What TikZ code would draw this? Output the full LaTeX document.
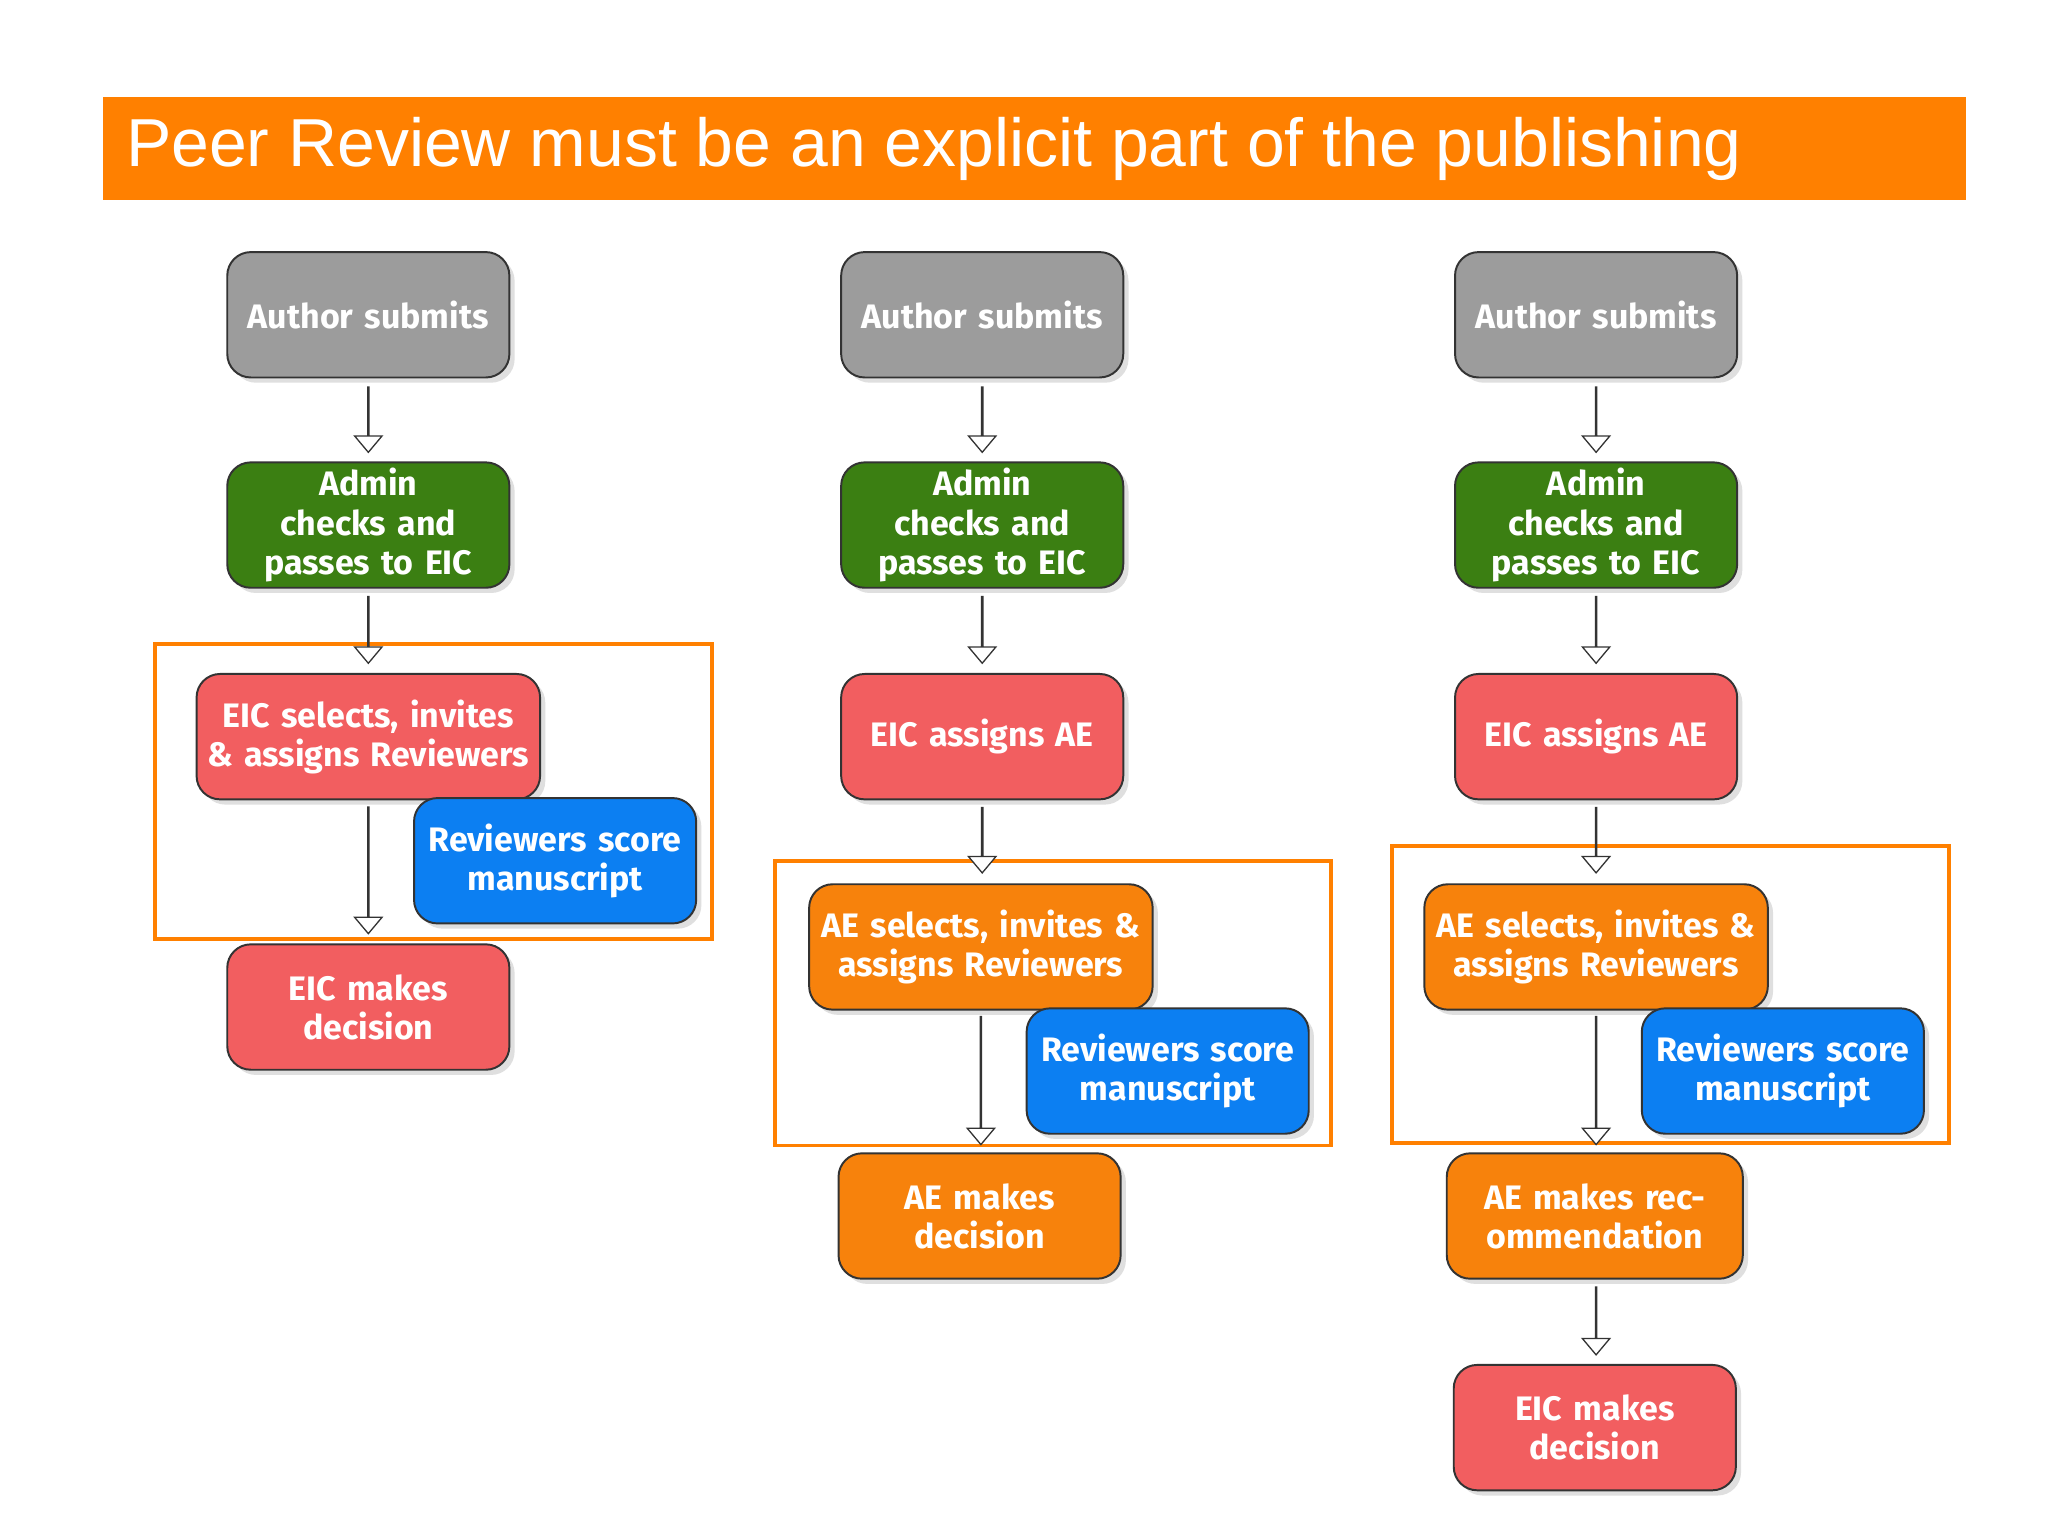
\documentclass[tikz,border=0pt]{standalone}
\usepackage{fontspec}
\setmainfont{Liberation Sans}
\newfontfamily\boxfont{Fira Sans}
\usetikzlibrary{shapes.arrows,calc,shadows}
\definecolor{tgray}{HTML}{9C9C9C}
\definecolor{tgreen}{HTML}{3B7F12}
\definecolor{tred}{HTML}{F25E60}
\definecolor{torange}{HTML}{F7820C}
\definecolor{tblue}{HTML}{0C7FF2}
\definecolor{bar}{HTML}{FF8000}
\tikzset{
 box/.style={draw=black!80,line width=1.5pt,rounded corners=18pt,minimum width=216pt,minimum height=96pt,text width=205pt,align=center,text=white,font=\boxfont\bfseries\fontsize{26}{30}\selectfont,drop shadow={shadow xshift=4pt,shadow yshift=-4pt,opacity=0.25}},
 wide/.style={minimum width=263pt,text width=250pt},
 blk/.style={single arrow,draw=black!80,fill=white,line width=1pt,shape border rotate=270,single arrow head extend=10pt,single arrow tip angle=80,minimum width=20pt,inner sep=0pt},
 frame/.style={draw=bar,line width=3pt}
}
\begin{document}
\begin{tikzpicture}[x=1pt,y=-1pt]
\useasboundingbox (0,0) rectangle (1568,1176);
\fill[white] (0,0) rectangle (1568,1176);
\fill[bar] (79,74) rectangle (1505,153);
\node[anchor=west,text=white,font=\fontsize{52}{60}\selectfont] (title) at (93,114) {Peer Review must be an explicit part of the publishing};
% column 1
\draw[frame] (119,493) rectangle (545,719);
\node[box,fill=tgray] (a1) at (282,241) {Author submits};
\node[box,fill=tgreen] (b1) at (282,402) {Admin checks and passes to EIC};
\node[box,wide,fill=tred] (c1) at (282,564) {EIC selects, invites \& assigns Reviewers};
\node[box,fill=tred] (e1) at (282,771) {EIC makes decision};
\node[blk,minimum height=50pt] (ar1) at (282,321) {};
\node[blk,minimum height=51pt] (ar2) at (282,482) {};
\node[blk,minimum height=97pt] (ar3) at (282,666) {};
\node[box,fill=tblue] (d1) at (425,659) {Reviewers score manuscript};
% column 2
\draw[frame] (593,659) rectangle (1019,877);
\node[box,fill=tgray] (a2) at (752,241) {Author submits};
\node[box,fill=tgreen] (b2) at (752,402) {Admin checks and passes to EIC};
\node[box,fill=tred] (c2) at (752,564) {EIC assigns AE};
\node[box,wide,fill=torange] (f2) at (751,725) {AE selects, invites \& assigns Reviewers};
\node[box,fill=torange] (e2) at (750,931) {AE makes decision};
\node[blk,minimum height=50pt] (br1) at (752,321) {};
\node[blk,minimum height=51pt] (br2) at (752,482) {};
\node[blk,minimum height=50pt] (br3) at (752,643) {};
\node[blk,minimum height=98pt] (br4) at (751,827) {};
\node[box,fill=tblue] (d2) at (894,820) {Reviewers score manuscript};
% column 3
\draw[frame] (1066,648) rectangle (1492,875);
\node[box,fill=tgray] (a3) at (1222,241) {Author submits};
\node[box,fill=tgreen] (b3) at (1222,402) {Admin checks and passes to EIC};
\node[box,fill=tred] (c3) at (1222,564) {EIC assigns AE};
\node[box,wide,fill=torange] (f3) at (1222,725) {AE selects, invites \& assigns Reviewers};
\node[box,minimum width=224pt,text width=220pt,fill=torange] (e3) at (1221,931) {AE makes recommendation};
\node[box,fill=tred] (g3) at (1221,1093) {EIC makes decision};
\node[blk,minimum height=50pt] (cr1) at (1222,321) {};
\node[blk,minimum height=51pt] (cr2) at (1222,482) {};
\node[blk,minimum height=50pt] (cr3) at (1222,643) {};
\node[blk,minimum height=98pt] (cr4) at (1222,827) {};
\node[blk,minimum height=52pt] (cr5) at (1222,1011) {};
\node[box,fill=tblue] (d3) at (1365,820) {Reviewers score manuscript};
\end{tikzpicture}
\end{document}
